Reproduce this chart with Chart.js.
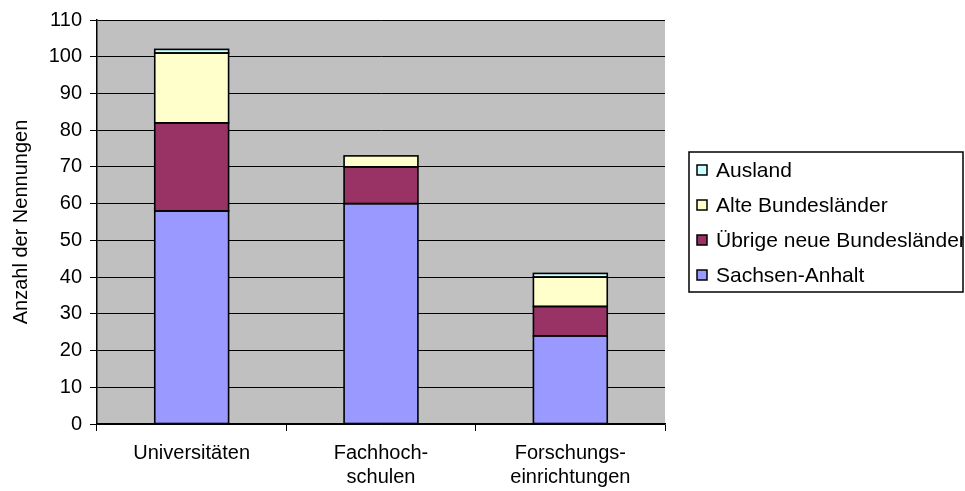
<!DOCTYPE html>
<html>
<head>
<meta charset="utf-8">
<script src="https://cdn.jsdelivr.net/npm/chart.js@4/dist/chart.umd.min.js"></script>
<style>
html,body{margin:0;padding:0;background:#fff;}
#wrap{width:965px;height:491px;position:relative;}
</style>
</head>
<body>
<div id="wrap"><canvas id="c" width="965" height="491"></canvas></div>
<script>
const categories = ['Universitäten', ['Fachhoch-', 'schulen'], ['Forschungs-', 'einrichtungen']];
const sachsenAnhalt = [58, 60, 24];
const uebrigeNeue = [24, 10, 8];
const alteBundeslaender = [19, 3, 8];
const ausland = [1, 0, 1];
const seriesNames = ['Sachsen-Anhalt', 'Übrige neue Bundesländer', 'Alte Bundesländer', 'Ausland'];
const seriesColors = ['#9999FF', '#993366', '#FFFFCC', '#CCFFFF'];
const yTicks = { min: 0, max: 110, step: 10 };
const yTitle = 'Anzahl der Nennungen';

const FONT = '"Liberation Sans", Arial, sans-serif';

const plotBg = {
  id: 'plotBg',
  beforeDraw(chart) {
    const { ctx, chartArea: a } = chart;
    ctx.save();
    ctx.fillStyle = '#C0C0C0';
    ctx.fillRect(a.left, a.top, a.right - a.left, a.bottom - a.top);
    ctx.restore();
  }
};

// Excel-style outlines centred on the segment edges (uses the library's bar elements)
const barOutlines = {
  id: 'barOutlines',
  afterDatasetsDraw(chart) {
    const ctx = chart.ctx;
    ctx.save();
    ctx.strokeStyle = '#000';
    ctx.lineWidth = 1.6;
    chart.data.datasets.forEach((d, di) => {
      const meta = chart.getDatasetMeta(di);
      meta.data.forEach((bar, i) => {
        if (!d.data[i]) return;
        const p = bar.getProps(['x', 'y', 'base', 'width'], true);
        const left = p.x - p.width / 2;
        const top = Math.min(p.y, p.base);
        const h = Math.abs(p.base - p.y);
        ctx.strokeRect(left, top, p.width, h);
      });
    });
    ctx.restore();
  }
};

const boxLegend = {
  id: 'boxLegend',
  afterDraw(chart) {
    const ctx = chart.ctx;
    const x0 = 689, y0 = 152, x1 = 963, y1 = 292;
    ctx.save();
    ctx.fillStyle = '#fff';
    ctx.fillRect(x0, y0, x1 - x0, y1 - y0);
    ctx.strokeStyle = '#000';
    ctx.lineWidth = 1.5;
    ctx.strokeRect(x0, y0, x1 - x0, y1 - y0);
    ctx.beginPath();
    ctx.rect(x0, y0, x1 - x0, y1 - y0);
    ctx.clip();
    ctx.font = '21px ' + FONT;
    ctx.textBaseline = 'middle';
    const ds = chart.data.datasets.slice().reverse();
    ds.forEach((d, i) => {
      const cy = 170 + i * 35;
      ctx.fillStyle = d.backgroundColor;
      ctx.fillRect(697, cy - 5, 10, 10);
      ctx.strokeStyle = '#000';
      ctx.lineWidth = 1.5;
      ctx.strokeRect(697, cy - 5, 10, 10);
      ctx.fillStyle = '#000';
      ctx.fillText(d.label, 716, cy + 1);
    });
    ctx.restore();
  }
};

const dataArrays = [sachsenAnhalt, uebrigeNeue, alteBundeslaender, ausland];

new Chart(document.getElementById('c'), {
  type: 'bar',
  data: {
    labels: categories,
    datasets: dataArrays.map((arr, i) => ({
      label: seriesNames[i],
      data: arr,
      backgroundColor: seriesColors[i],
      borderWidth: 0,
      barPercentage: 0.39,
      categoryPercentage: 1
    }))
  },
  options: {
    responsive: false,
    animation: false,
    layout: { padding: { top: 20, right: 300, left: 0, bottom: 0 } },
    plugins: {
      legend: { display: false },
      tooltip: { enabled: false }
    },
    scales: {
      x: {
        stacked: true,
        offset: true,
        grid: {
          offset: true,
          drawOnChartArea: false,
          drawTicks: true,
          tickLength: 7,
          color: '#000',
          lineWidth: 1
        },
        border: { display: true, color: '#000', width: 1.5 },
        ticks: {
          color: '#000',
          font: { family: FONT, size: 20 },
          padding: 10,
          maxRotation: 0,
          autoSkip: false
        },
        afterFit(scale) { scale.height = 67; }
      },
      y: {
        stacked: true,
        min: yTicks.min,
        max: yTicks.max,
        ticks: {
          stepSize: yTicks.step,
          color: '#000',
          font: { family: FONT, size: 20 },
          padding: 8
        },
        grid: {
          color: '#000',
          lineWidth: 1,
          tickLength: 7
        },
        border: { display: true, color: '#000', width: 1.5 },
        title: {
          display: true,
          text: yTitle,
          color: '#000',
          font: { family: FONT, size: 20 },
          padding: { top: 9, bottom: 0 }
        },
        afterFit(scale) { scale.width = 97; }
      }
    }
  },
  plugins: [plotBg, barOutlines, boxLegend]
});
</script>
</body>
</html>
